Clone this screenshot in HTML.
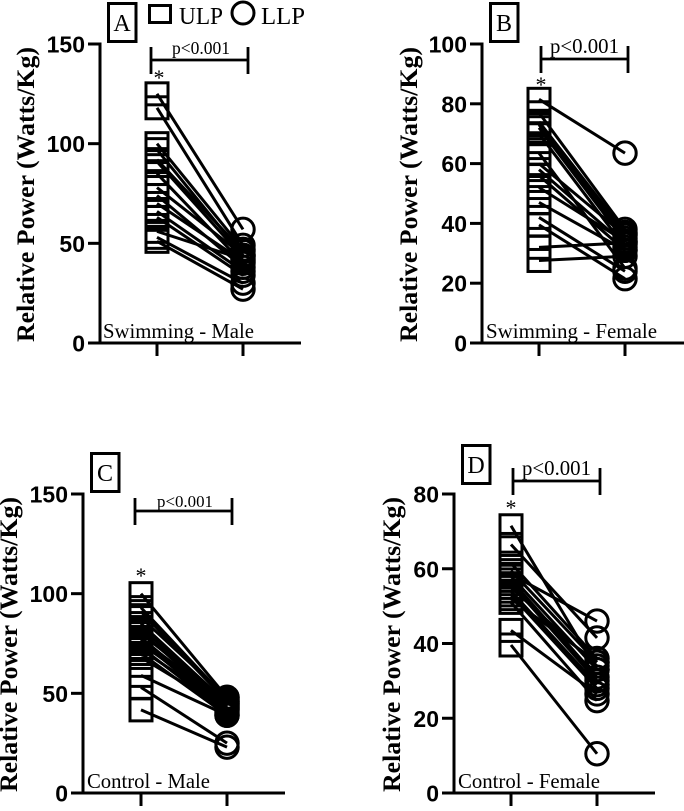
<!DOCTYPE html>
<html>
<head>
<meta charset="utf-8">
<title>Relative power panels</title>
<style>
html,body{margin:0;padding:0;background:#fff;}
svg{display:block;}
</style>
</head>
<body>
<svg id="fig" xmlns="http://www.w3.org/2000/svg" width="684" height="811" viewBox="0 0 684 811">
<rect x="0" y="0" width="684" height="811" fill="#fff"/>
<g>
  <rect x="149.5" y="5.5" width="21" height="17" fill="none" stroke="#000" stroke-width="3"/>
  <text x="179" y="24" font-family="Liberation Serif, serif" font-size="24" textLength="44" lengthAdjust="spacingAndGlyphs" fill="#000">ULP</text>
  <circle cx="243" cy="13" r="11" fill="none" stroke="#000" stroke-width="3"/>
  <text x="261" y="24" font-family="Liberation Serif, serif" font-size="24" textLength="44" lengthAdjust="spacingAndGlyphs" fill="#000">LLP</text>
</g>
</svg>
<script>
const ticksA = [0, 50, 100, 150];
const ulpA = [125, 118, 100, 97, 92, 91, 85, 78, 74, 70, 66, 63, 56, 53, 51];
const llpA = [57, 49, 47, 44, 46, 43, 40, 44, 38, 41, 36, 34, 42, 30, 27];
const ticksB = [0, 20, 40, 60, 80, 100];
const ulpB = [81.5, 77, 74, 73.5, 73, 72, 70, 63.5, 60, 58, 56, 52, 47, 42, 39.5, 32, 27.6];
const llpB = [63.5, 38, 37, 36.5, 35, 34, 32, 25, 36, 33, 31, 34, 31, 24, 21.5, 33.5, 29];
const ticksC = [0, 50, 100, 150];
const ulpC = [100, 93, 91, 88, 85, 83, 81, 80, 78, 77, 76, 75, 73, 72, 70, 68, 59, 53, 41.7];
const llpC = [48, 47, 46, 48, 45, 44, 43, 46, 42, 45, 41, 44, 40, 43, 39, 42, 39, 25, 23];
const ticksD = [0, 20, 40, 60, 80];
const ulpD = [71.5, 66.5, 61.5, 59.5, 58.5, 58, 57, 56, 55, 54, 53, 52, 51, 43.5, 39.6];
const llpD = [33, 41.5, 36, 35, 46, 33, 31, 30, 34, 29, 28, 35, 24.7, 26.5, 10.5];

const panels = [
  {id:'a', letter:'A', ticks:ticksA, ulp:ulpA, llp:llpA, ax:100, y0:343, yT:44, end:301, x1:157, x2:243,
   title:'Swimming - Male', tx:103, tl:151, ty:338, titleX:26, titleTop:47, titleBot:342,
   box:[107,2], br:[151,248,60], p:[172,58,54,17.5], star:[159,85]},
  {id:'b', letter:'B', ticks:ticksB, ulp:ulpB, llp:llpB, ax:482, y0:343, yT:44, end:684, x1:539, x2:625,
   title:'Swimming - Female', tx:486, tl:171, ty:338, titleX:409, titleTop:47, titleBot:342,
   box:[489,2], br:[541,628,59], p:[550,69,53,21], star:[541,92]},
  {id:'c', letter:'C', ticks:ticksC, ulp:ulpC, llp:llpC, ax:83, y0:793, yT:494, end:285, x1:141, x2:227,
   title:'Control - Male', tx:87, tl:123, ty:788, titleX:9, titleTop:497, titleBot:792,
   box:[90,452], br:[135,232,511], p:[157,56,507,17], star:[141,583]},
  {id:'d', letter:'D', ticks:ticksD, ulp:ulpD, llp:llpD, ax:454, y0:793, yT:494, end:655, x1:511, x2:597,
   title:'Control - Female', tx:458, tl:142, ty:788, titleX:392, titleTop:497, titleBot:792,
   box:[461,444], br:[513,600,481], p:[522,69,475,21], star:[511,515]}
];

const NS = 'http://www.w3.org/2000/svg';
const fig = document.getElementById('fig');
const INK = '#000';
function mk(parent, tag, attrs, text) {
  const e = document.createElementNS(NS, tag);
  for (const k in attrs) e.setAttribute(k, attrs[k]);
  if (text !== undefined) e.textContent = text;
  parent.appendChild(e);
  return e;
}
function yScale(p) {
  const max = p.ticks[p.ticks.length - 1];
  return v => p.y0 - (v / max) * (p.y0 - p.yT);
}
panels.forEach(p => {
  const y = yScale(p);
  const g = mk(fig, 'g', {});
  
  

  const yAxis = mk(g, 'line', {x1:p.ax, x2:p.ax, y1:p.yT - 1.5, y2:p.y0 + 1.5, stroke:INK, 'stroke-width':3});
  
  
  const xAxis = mk(g, 'line', {x1:p.ax - 12, x2:p.end, y1:p.y0, y2:p.y0, stroke:INK, 'stroke-width':3});
  
  

  p.ticks.forEach(t => {
    const tick = mk(g, 'line', {x1:p.ax - 12, x2:p.ax, y1:y(t), y2:y(t), stroke:INK, 'stroke-width':3});
    
    
    const lab = mk(g, 'text', {x:p.ax - 15, y:y(t) + 8.5, 'text-anchor':'end', 'font-family':'Liberation Sans, sans-serif', 'font-weight':'bold', 'font-size':23, fill:INK}, String(t));
    
    
  });
  [p.x1, p.x2].forEach(x => {
    const tick = mk(g, 'line', {x1:x, x2:x, y1:p.y0, y2:p.y0 + 13, stroke:INK, 'stroke-width':3});
    
    
  });

  const midY = (p.titleTop + p.titleBot) / 2;
  const yTitle = mk(g, 'text', {x:0, y:0, transform:'translate(' + (p.titleX + 8) + ' ' + midY + ') rotate(-90)', 'text-anchor':'middle', 'font-family':'Liberation Serif, serif', 'font-weight':'bold', 'font-size':25, textLength:p.titleBot - p.titleTop, lengthAdjust:'spacingAndGlyphs', fill:INK}, 'Relative Power (Watts/Kg)');
  
  

  const inner = mk(g, 'text', {x:p.tx, y:p.ty, 'font-family':'Liberation Serif, serif', 'font-size':20.7, textLength:p.tl, lengthAdjust:'spacingAndGlyphs', fill:INK}, p.title);
  
  

  const box = mk(g, 'rect', {x:p.box[0] + 1.5, y:p.box[1] + 1.5, width:27.5, height:38, fill:'#fff', stroke:INK, 'stroke-width':3});
  
  
  const letter = mk(g, 'text', {x:p.box[0] + 15, y:p.box[1] + 29, 'text-anchor':'middle', 'font-family':'Liberation Serif, serif', 'font-size':24, fill:INK}, p.letter);
  
  

  const bd = 'M' + p.br[0] + ' ' + (p.br[2] - 13) + 'V' + (p.br[2] + 14) + 'M' + p.br[0] + ' ' + p.br[2] + 'H' + p.br[1] + 'M' + p.br[1] + ' ' + (p.br[2] - 13) + 'V' + (p.br[2] + 14);
  const bracket = mk(g, 'path', {d:bd, fill:'none', stroke:INK, 'stroke-width':2.8});
  
  
  const pv = mk(g, 'text', {x:p.p[0], y:p.p[2], 'font-family':'Liberation Serif, serif', 'font-size':p.p[3], textLength:p.p[1], lengthAdjust:'spacingAndGlyphs', fill:INK}, 'p<0.001');
  
  
  const star = mk(g, 'text', {x:p.star[0], y:p.star[1], 'text-anchor':'middle', 'font-family':'Liberation Serif, serif', 'font-size':22, fill:INK}, '*');
  
  

  p.ulp.forEach(v => {
    const r = mk(g, 'rect', {x:p.x1 - 11, y:y(v) - 11, width:22, height:22, fill:'none', stroke:INK, 'stroke-width':3});
    
    
  });
  p.llp.forEach(v => {
    const c = mk(g, 'circle', {cx:p.x2, cy:y(v), r:11.2, fill:'none', stroke:INK, 'stroke-width':3});
    
    
  });
  p.ulp.forEach((v, i) => {
    const l = mk(g, 'line', {x1:p.x1, x2:p.x2, y1:y(v), y2:y(p.llp[i]), stroke:INK, 'stroke-width':3});
    
    
  });
});
</script>
</body>
</html>
